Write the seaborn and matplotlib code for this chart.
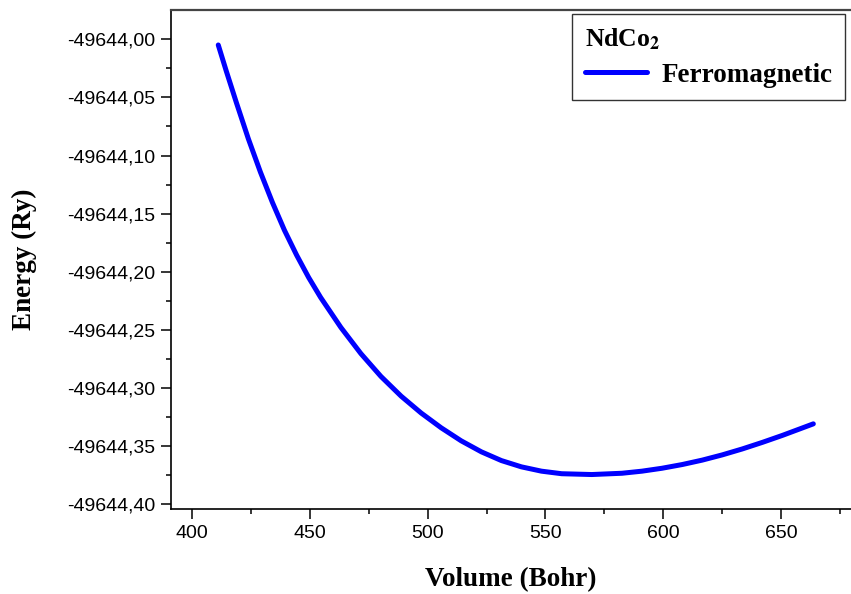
import matplotlib
matplotlib.use("Agg")
import matplotlib.pyplot as plt
from matplotlib.ticker import FixedLocator, FuncFormatter, MultipleLocator
import seaborn as sns
import pandas as pd

# Equation-of-state curve for NdCo2 (ferromagnetic state)
volume = [411.0, 414.4, 418.7, 423.8, 428.9, 434.0, 439.1, 444.3, 449.4, 454.5,
          463.1, 471.6, 480.1, 488.7, 497.2, 505.7, 514.2, 522.8, 531.3, 539.8,
          548.3, 556.9, 569.7, 582.5, 591.0, 599.5, 608.1, 616.6, 625.1, 633.6,
          642.2, 650.7, 663.8]
energy = [-49644.0049, -49644.0273, -49644.0545, -49644.0857, -49644.1142,
          -49644.1403, -49644.1642, -49644.1857, -49644.2049, -49644.2221,
          -49644.2479, -49644.2704, -49644.2900, -49644.3070, -49644.3215,
          -49644.3342, -49644.3454, -49644.3549, -49644.3624, -49644.3678,
          -49644.3715, -49644.3737, -49644.3744, -49644.3733, -49644.3715,
          -49644.3690, -49644.3658, -49644.3620, -49644.3575, -49644.3524,
          -49644.3467, -49644.3407, -49644.3308]
series_name = "Ferromagnetic"
compound = r"NdCo$_{\mathbf{2}}$"
x_ticks = [400, 450, 500, 550, 600, 650]
y_ticks = [-49644.40, -49644.35, -49644.30, -49644.25, -49644.20,
           -49644.15, -49644.10, -49644.05, -49644.00]

sns.set_theme(style="ticks")
plt.rcParams["font.family"] = ["Liberation Sans", "DejaVu Sans"]
plt.rcParams["mathtext.fontset"] = "stix"
plt.rcParams["text.color"] = "black"
plt.rcParams["axes.labelcolor"] = "black"

df = pd.DataFrame({"Volume": volume, "Energy": energy})

fig = plt.figure(figsize=(8.51, 5.94), dpi=100)
ax = fig.add_axes([0.2006, 0.1426, 0.7994, 0.8406])

sns.lineplot(data=df, x="Volume", y="Energy", ax=ax, color="#0000FF",
             linewidth=3.6, label=series_name, estimator=None, sort=True)
for ln in ax.get_lines():
    ln.set_solid_joinstyle("round")

ax.set_xlim(390.8, 679.8)
ax.set_ylim(-49644.4043, -49643.9748)

ax.xaxis.set_major_locator(FixedLocator(x_ticks))
ax.xaxis.set_minor_locator(MultipleLocator(25))
ax.yaxis.set_major_locator(FixedLocator(y_ticks))
ax.yaxis.set_minor_locator(FixedLocator([v + 0.025 for v in y_ticks[:-1]]))
ax.yaxis.set_major_formatter(FuncFormatter(lambda v, p: f"{v:.2f}".replace(".", ",")))
ax.xaxis.set_major_formatter(FuncFormatter(lambda v, p: f"{v:.0f}"))

ax.tick_params(axis="both", which="major", direction="out", length=7.2,
               width=1.1, color="black", labelsize=14, pad=4, labelcolor="black")
ax.tick_params(axis="both", which="minor", direction="out", length=3.4,
               width=1.1, color="black")

for side in ("left", "bottom"):
    ax.spines[side].set_color("black")
    ax.spines[side].set_linewidth(1.2)
ax.spines["top"].set_color("#444444")
ax.spines["top"].set_linewidth(1.6)
ax.spines["right"].set_visible(False)

label_font = dict(family="Liberation Serif", weight="bold", size=19.5, color="black")
ax.set_xlabel("Volume (Bohr)", **label_font)
ax.set_ylabel("Energy (Ry)", **label_font)
ax.xaxis.set_label_coords(0.5, -0.115)
ax.yaxis.set_label_coords(-0.197, 0.5)

leg = ax.legend(loc="upper right", bbox_to_anchor=(0.9912, 0.992),
                borderaxespad=0, title=compound, alignment="left",
                prop=dict(family="Liberation Serif", weight="bold", size=19.5),
                title_fontproperties=dict(family="Liberation Serif", weight="bold", size=18.5),
                frameon=True, fancybox=False, shadow=False, framealpha=1,
                handlelength=2.3, handletextpad=0.55, borderpad=0.45,
                labelspacing=0.4)
leg.get_frame().set_edgecolor("#333333")
leg.get_frame().set_linewidth(1.0)
leg.get_title().set_color("black")
for t in leg.get_texts():
    t.set_color("black")
for line in leg.get_lines():
    line.set_linewidth(3.6)

fig.savefig("out.png", dpi=100)
